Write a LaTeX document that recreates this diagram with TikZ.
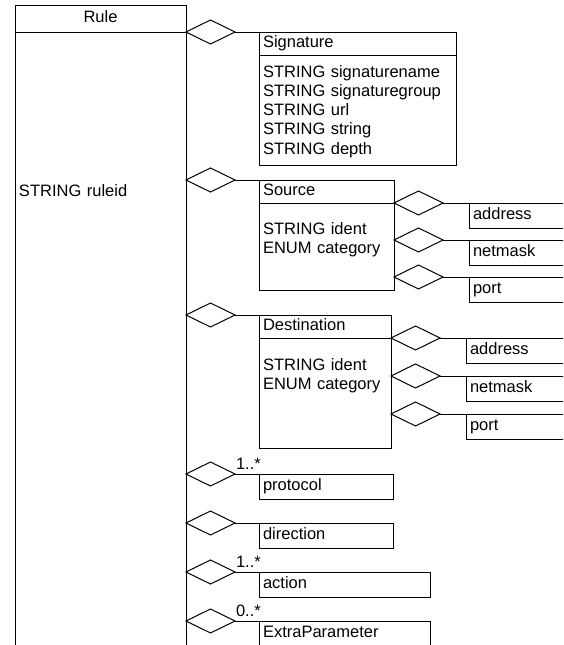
\documentclass[tikz,border=0pt]{standalone}
\usepackage{fontspec}
\setmainfont{Liberation Sans}
\usetikzlibrary{positioning,shapes.geometric}
\tikzset{
  hdr/.style={draw, anchor=north west, inner xsep=4pt, inner ysep=0pt, minimum height=23pt,
    text height=11.8pt, text depth=3pt, text width=#1, align=left},
  body/.style={draw, inner xsep=4pt, inner ysep=0pt, text width=#1, align=left},
  leaf/.style={hdr=#1, minimum height=25pt},
  agg/.style={draw, diamond, inner sep=0pt, minimum width=49pt, minimum height=24pt},
  mult/.style={anchor=base west, inner sep=0pt},
}

\begin{document}
\begin{tikzpicture}[x=1pt,y=-1pt,line width=1pt,every node/.style={font=\fontsize{16.5}{19.3}\selectfont,outer sep=0pt}]
  \useasboundingbox (0,0) rectangle (563,645);
  \clip (0,0) rectangle (563,645);
  % the rule class
  \node[hdr=163pt,minimum height=27pt,align=center] (rule) at (15,5) {Rule};
  \node[body=163pt,below=0pt of rule,text height=164pt,text depth=600pt] (ruleb) {STRING ruleid};
  % signature
  \node[hdr=189pt] (sig) at (259,32) {Signature};
  \node[body=189pt,below=0pt of sig,text height=22pt,text depth=88pt] (sigb) {STRING signaturename\\STRING signaturegroup\\STRING url\\STRING string\\STRING depth};
  \node[agg,left=24pt of sig.north west] (dsig) {};
  \draw (dsig.east) -- (sig.north west);
  % source
  \node[hdr=127pt] (src) at (259,180) {Source};
  \node[body=127pt,below=0pt of src,text height=31pt,text depth=56pt] (srcb) {STRING ident\\ENUM category};
  \node[agg,left=24pt of src.north west] (dsrc) {};
  \draw (dsrc.east) -- (src.north west);
  \node[agg,right=0pt of srcb.north east] (dsaddr) {};
  \node[agg,below=13pt of dsaddr] (dsmask) {};
  \node[agg,below=13pt of dsmask] (dsport) {};
  \node[leaf=120pt] (saddr) at ([xshift=26pt]dsaddr.east) {address};
  \node[leaf=120pt] (smask) at ([xshift=26pt]dsmask.east) {netmask};
  \node[leaf=120pt] (sport) at ([xshift=26pt]dsport.east) {port};
  \draw (dsaddr.east) -- (saddr.north west);
  \draw (dsmask.east) -- (smask.north west);
  \draw (dsport.east) -- (sport.north west);
  % destination
  \node[hdr=124pt] (dst) at (259,315) {Destination};
  \node[body=124pt,below=0pt of dst,text height=32pt,text depth=78pt] (dstb) {STRING ident\\ENUM category};
  \node[agg,left=24pt of dst.north west] (ddst) {};
  \draw (ddst.east) -- (dst.north west);
  \node[agg,right=0pt of dstb.north east] (ddaddr) {};
  \node[agg,below=14pt of ddaddr] (ddmask) {};
  \node[agg,below=14pt of ddmask] (ddport) {};
  \node[leaf=120pt] (daddr) at ([xshift=26pt]ddaddr.east) {address};
  \node[leaf=120pt] (dmask) at ([xshift=26pt]ddmask.east) {netmask};
  \node[leaf=120pt] (dport) at ([xshift=26pt]ddport.east) {port};
  \draw (ddaddr.east) -- (daddr.north west);
  \draw (ddmask.east) -- (dmask.north west);
  \draw (ddport.east) -- (dport.north west);
  % plain members
  \node[leaf=126pt] (prot) at (259,474) {protocol};
  \node[leaf=126pt] (dir) at (259,523) {direction};
  \node[leaf=163pt] (act) at (259,572) {action};
  \node[leaf=163pt] (extra) at (259,621) {ExtraParameter};
  \foreach \n in {prot,dir,act,extra}{
    \node[agg,left=24pt of \n.north west] (d\n) {};
    \draw (d\n.east) -- (\n.north west);
  }
  \node[mult] (mprot) at ([xshift=1pt,yshift=5pt]dprot.east) {1..*};
  \node[mult] (mact) at ([xshift=1pt,yshift=5pt]dact.east) {1..*};
  \node[mult] (mextra) at ([xshift=1pt,yshift=5pt]dextra.east) {0..*};
\end{tikzpicture}
\end{document}
